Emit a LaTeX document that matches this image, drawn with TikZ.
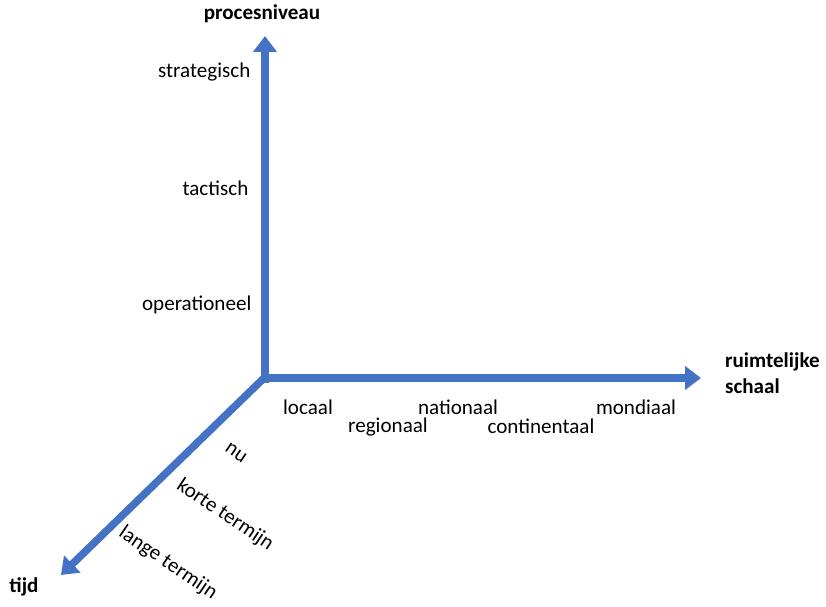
\documentclass[tikz,border=0pt]{standalone}
\usepackage{fontspec}
\setmainfont{Carlito}
\usetikzlibrary{arrows.meta}
\definecolor{asblauw}{RGB}{68,114,196}
\tikzset{
  as/.style={draw=asblauw, line width=4.3pt, -{Triangle[length=9pt,width=13pt]}},
  lbl/.style={font=\fontsize{12}{14}\selectfont, inner sep=1pt},
  titel/.style={font=\fontsize{12}{15}\selectfont\bfseries, inner sep=1pt, align=left},
  tlbl/.style={lbl, rotate=-34}
}
\begin{document}
\begin{tikzpicture}

\useasboundingbox (0,0) rectangle (16.52,12.12);

\coordinate (O) at (5.28,4.56);
\coordinate (ytip) at (5.30,11.40);
\coordinate (xtip) at (14.02,4.56);
\coordinate (ttip) at (1.22,0.62);

\draw [as] (5.30,4.47) -- (ytip);
\draw [as] (5.22,4.56) -- (xtip);
\draw [as] (O) -- (ttip);

% assen
\node [titel] (proces) at (5.24,11.84) {procesniveau};
\node [titel, anchor=west] (ruimte) at (14.46,4.66) {ruimtelijke\\schaal};
\node [titel] (tijd) at (0.48,0.38) {tijd};

% procesniveau
\node [lbl, anchor=east] (strat) at (5.05,10.68) {strategisch};
\node [lbl, anchor=east] (tact) at (5.01,8.36) {tactisch};
\node [lbl, anchor=east] (oper) at (5.07,6.02) {operationeel};

% ruimtelijke schaal
\node [lbl] (loc) at (6.16,3.98) {locaal};
\node [lbl] (reg) at (7.76,3.58) {regionaal};
\node [lbl] (nat) at (9.16,3.98) {nationaal};
\node [lbl] (cont) at (10.82,3.60) {continentaal};
\node [lbl] (mond) at (12.72,3.98) {mondiaal};

% tijd
\node [tlbl] (nu) at (4.72,3.06) {nu};
\node [tlbl] (kort) at (4.50,1.82) {korte termijn};
\node [tlbl] (lang) at (3.36,0.86) {lange termijn};

\end{tikzpicture}
\end{document}
